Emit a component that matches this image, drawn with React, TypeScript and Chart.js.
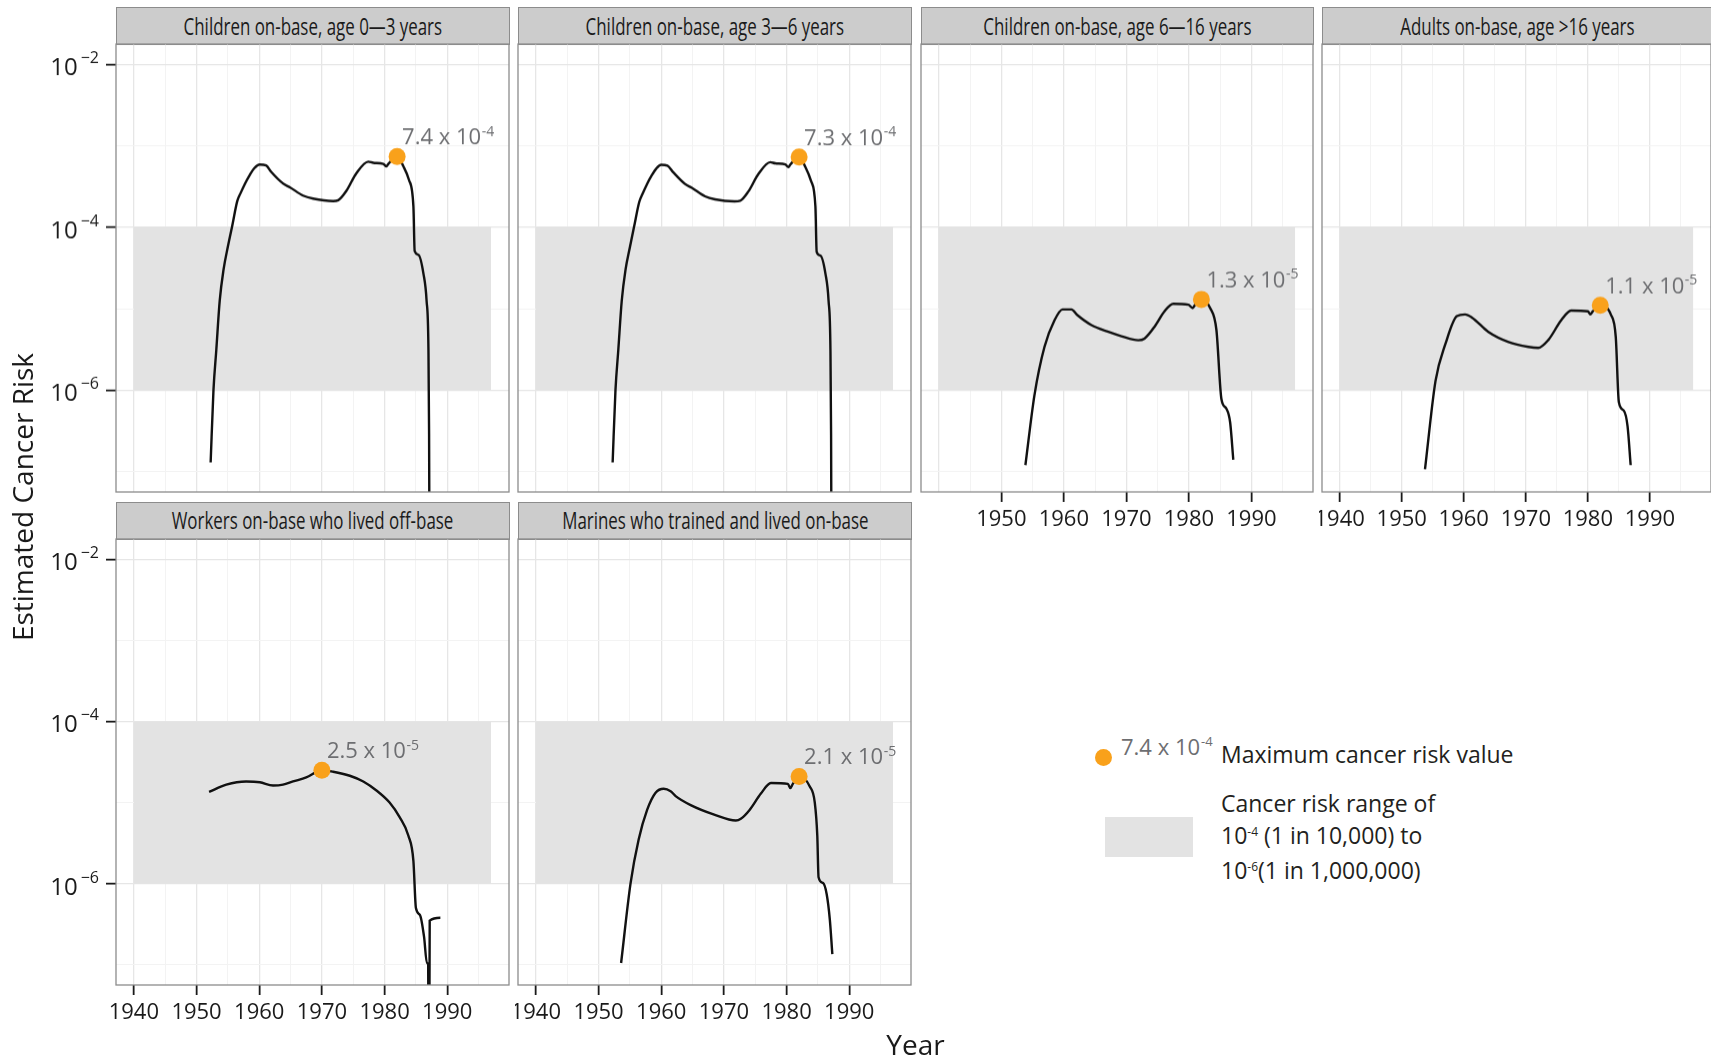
import React, { useEffect, useRef } from "react";
import { Chart, registerables } from "chart.js";

Chart.register(...registerables);

const FONT = '"Open Sans", "Noto Sans", "DejaVu Sans", sans-serif';

// ---------------- data ----------------
const panelTitles = [
  "Children on-base, age 0—3 years",
  "Children on-base, age 3—6 years",
  "Children on-base, age 6—16 years",
  "Adults on-base, age >16 years",
  "Workers on-base who lived off-base",
  "Marines who trained and lived on-base",
];

const years0to3 = [1952.25, 1952.7, 1953.15, 1953.7, 1954.3, 1955.0, 1955.65, 1956.5, 1957.0, 1957.7, 1958.5, 1959.2, 1960.1, 1961.1, 1961.9, 1963.8, 1964.9, 1967.0, 1968.6, 1971.8, 1972.6, 1973.9, 1975.5, 1977.4, 1978.2, 1979.8, 1980.3, 1980.6, 1982.0, 1983.0, 1983.9, 1984.6, 1984.8, 1985.4, 1986.2, 1986.7, 1987.0, 1987.1, 1987.2];
const risk0to3 = [1.3e-7, 1.0e-6, 3.1e-6, 1.26e-5, 3.0e-5, 5.8e-5, 1.0e-4, 2.1e-4, 2.6e-4, 3.4e-4, 4.4e-4, 5.3e-4, 5.9e-4, 5.75e-4, 4.8e-4, 3.45e-4, 3.1e-4, 2.45e-4, 2.25e-4, 2.1e-4, 2.15e-4, 2.8e-4, 4.6e-4, 6.4e-4, 6.2e-4, 6.0e-4, 5.6e-4, 6.0e-4, 7.4e-4, 5.6e-4, 3.8e-4, 1.8e-4, 5.1e-5, 4.6e-5, 2.7e-5, 1.26e-5, 3.1e-6, 2.9e-7, 1e-9];

const years3to6 = [1952.25, 1952.7, 1953.15, 1953.7, 1954.3, 1955.0, 1955.65, 1956.5, 1957.0, 1957.7, 1958.5, 1959.2, 1960.0, 1961.0, 1961.9, 1963.8, 1964.9, 1967.0, 1968.6, 1971.7, 1972.6, 1973.9, 1975.5, 1977.4, 1978.2, 1979.8, 1980.3, 1980.6, 1982.0, 1983.0, 1983.9, 1984.6, 1984.8, 1985.4, 1986.2, 1986.7, 1987.0, 1987.1, 1987.2];
const risk3to6 = [1.3e-7, 1.0e-6, 3.1e-6, 1.25e-5, 3.0e-5, 5.7e-5, 1.0e-4, 2.05e-4, 2.55e-4, 3.35e-4, 4.35e-4, 5.25e-4, 5.85e-4, 5.7e-4, 4.75e-4, 3.4e-4, 3.05e-4, 2.4e-4, 2.2e-4, 2.08e-4, 2.12e-4, 2.75e-4, 4.5e-4, 6.3e-4, 6.1e-4, 5.9e-4, 5.5e-4, 5.9e-4, 7.3e-4, 5.5e-4, 3.7e-4, 1.8e-4, 5.0e-5, 4.5e-5, 2.7e-5, 1.25e-5, 3.0e-6, 2.8e-7, 1e-9];

const years6to16 = [1953.85, 1955.3, 1956.9, 1958.5, 1959.8, 1961.2, 1962.2, 1964.4, 1967.1, 1969.2, 1971.9, 1972.9, 1974.5, 1976.1, 1977.5, 1979.9, 1980.6, 1981.0, 1982.0, 1983.4, 1984.4, 1985.2, 1986.0, 1986.6, 1987.1];
const risk6to16 = [1.2e-7, 8.7e-7, 3.4e-6, 7.2e-6, 9.8e-6, 9.8e-6, 8.3e-6, 6.3e-6, 5.2e-6, 4.6e-6, 4.1e-6, 4.3e-6, 6.0e-6, 9.3e-6, 1.15e-5, 1.12e-5, 1.02e-5, 1.12e-5, 1.3e-5, 1.02e-5, 5.5e-6, 7.8e-7, 5.9e-7, 4.0e-7, 1.4e-7];

const yearsAdults = [1953.75, 1955.45, 1957.05, 1958.9, 1960.2, 1961.3, 1963.95, 1967.2, 1970.4, 1972.0, 1973.6, 1975.7, 1977.3, 1980.0, 1980.4, 1980.8, 1982.0, 1983.7, 1984.5, 1985.0, 1985.8, 1986.4, 1986.9];
const riskAdults = [1.07e-7, 1.3e-6, 3.7e-6, 8.1e-6, 8.5e-6, 7.8e-6, 5.2e-6, 3.9e-6, 3.4e-6, 3.3e-6, 4.1e-6, 7.2e-6, 9.5e-6, 9.3e-6, 8.5e-6, 9.3e-6, 1.1e-5, 8.5e-6, 4.5e-6, 7.1e-7, 5.6e-7, 3.6e-7, 1.2e-7];

const yearsWorkers = [1952.0, 1954.75, 1957.9, 1960.1, 1962.2, 1963.8, 1965.4, 1967.5, 1970.0, 1971.8, 1974.45, 1976.6, 1978.7, 1980.8, 1982.4, 1983.8, 1984.6, 1985.0, 1985.65, 1986.3, 1986.75, 1986.95, 1987.05, 1987.2, 1988.9];
const riskWorkers = [1.35e-5, 1.66e-5, 1.82e-5, 1.78e-5, 1.62e-5, 1.66e-5, 1.82e-5, 2.04e-5, 2.5e-5, 2.4e-5, 2.14e-5, 1.82e-5, 1.41e-5, 1.0e-5, 6.6e-6, 3.9e-6, 1.9e-6, 5.0e-7, 4.1e-7, 2.2e-7, 1.05e-7, 1.0e-7, 1e-10, 3.5e-7, 3.8e-7];

const yearsMarines = [1953.6, 1955.1, 1956.4, 1957.75, 1959.1, 1960.4, 1961.5, 1962.3, 1964.7, 1968.45, 1971.9, 1972.7, 1974.1, 1975.9, 1977.5, 1980.2, 1980.6, 1981.0, 1982.0, 1983.7, 1984.5, 1984.9, 1985.1, 1985.8, 1986.4, 1986.9, 1987.3];
const riskMarines = [1.05e-7, 1.0e-6, 3.5e-6, 8.1e-6, 1.32e-5, 1.48e-5, 1.38e-5, 1.2e-5, 9.3e-6, 7.1e-6, 6.0e-6, 6.3e-6, 8.1e-6, 1.29e-5, 1.74e-5, 1.7e-5, 1.51e-5, 1.7e-5, 2.1e-5, 1.58e-5, 1.0e-5, 3.9e-6, 1.2e-6, 1.02e-6, 7.4e-7, 3.6e-7, 1.35e-7];

const maxYears = [1982, 1982, 1982, 1982, 1970, 1982];
const maxRisks = [7.4e-4, 7.3e-4, 1.3e-5, 1.1e-5, 2.5e-5, 2.1e-5];

const xTickYears = [1940, 1945, 1950, 1955, 1960, 1965, 1970, 1975, 1980, 1985, 1990, 1995];
const xLabelYears = [1940, 1950, 1960, 1970, 1980, 1990];
const yTickRisks = [1e-7, 1e-6, 1e-5, 1e-4, 1e-3, 1e-2];
const yLabelRisks = [1e-6, 1e-4, 1e-2];
const rangeYears = [1940, 1997];
const rangeLow = 1e-6;
const rangeHigh = 1e-4;
const legendExample = 7.4e-4;
const xLimits = [1937.15, 1999.85];
const yLimitExps = [-7.25, -1.75];

const seriesYears = [years0to3, years3to6, years6to16, yearsAdults, yearsWorkers, yearsMarines];
const seriesRisks = [risk0to3, risk3to6, risk6to16, riskAdults, riskWorkers, riskMarines];

// ---------------- layout (styles) ----------------
type PanelLayout = {
  left: number; right: number; top: number; bottom: number; stripTop: number;
  showY: boolean; showX: boolean; hideFirstX?: boolean;
};

const PANELS: PanelLayout[] = [
  { left: 116, right: 509, top: 44, bottom: 491.5, stripTop: 7, showY: true, showX: false },
  { left: 518, right: 911, top: 44, bottom: 491.5, stripTop: 7, showY: false, showX: false },
  { left: 920.5, right: 1313, top: 44, bottom: 491.5, stripTop: 7, showY: false, showX: true, hideFirstX: true },
  { left: 1322, right: 1711, top: 44, bottom: 491.5, stripTop: 7, showY: false, showX: true },
  { left: 116, right: 509, top: 539, bottom: 985, stripTop: 501.5, showY: true, showX: true },
  { left: 518, right: 911, top: 539, bottom: 985, stripTop: 501.5, showY: false, showX: true },
];

const MAJOR_GRID = "#e6e6e6";
const MINOR_GRID = "#f3f3f3";
const PANEL_BORDER = "#8c8c8c";
const TEXT_DARK = "#1a1a1a";
const LABEL_GREY = "#6d6e71";
const ORANGE = "#f9a11b";
const RANGE_FILL = "#e3e3e3";
const X_AXIS_H = 60;

function geom(p: PanelLayout) {
  const padL = p.showY ? p.left : 3;
  const padR = 3;
  const padT = 2;
  const padB = p.showX ? 0 : 3;
  const axisH = p.showX ? X_AXIS_H : 0;
  return {
    padL, padR, padT, padB, axisH,
    cl: p.left - padL,
    ct: p.top - padT,
    w: p.right - p.left + padL + padR,
    h: p.bottom - p.top + padT + padB + axisH,
  };
}

const isMajorYear = (v: number) => xLabelYears.includes(v);
const isMajorRisk = (v: number) => yLabelRisks.some((r) => Math.abs(Math.log10(r) - Math.log10(v)) < 1e-6);

function makeDecor(p: PanelLayout, idx: number) {
  return {
    id: "decor" + idx,
    afterDatasetsDraw(chart: any) {
      const ctx = chart.ctx as CanvasRenderingContext2D;
      const meta = chart.getDatasetMeta(3);
      const pt = meta.data[0];
      if (!pt) return;
      const parts = maxRisks[idx].toExponential(1).split("e");
      const mant = parts[0];
      const exp = String(parseInt(parts[1], 10));
      ctx.save();
      ctx.fillStyle = LABEL_GREY;
      ctx.textAlign = "left";
      ctx.textBaseline = "alphabetic";
      ctx.font = `22px ${FONT}`;
      const tx = pt.x + 5;
      const ty = pt.y - 12;
      const main = `${mant} x 10`;
      ctx.fillText(main, tx, ty);
      const w = ctx.measureText(main).width;
      ctx.font = `14px ${FONT}`;
      ctx.fillText(exp, tx + w + 0.5, ty - 8.5);
      ctx.restore();
    },
    afterDraw(chart: any) {
      const ctx = chart.ctx as CanvasRenderingContext2D;
      const a = chart.chartArea;
      ctx.save();
      ctx.strokeStyle = PANEL_BORDER;
      ctx.lineWidth = 1.3;
      ctx.strokeRect(a.left, a.top, a.right - a.left, a.bottom - a.top);
      if (p.showY) {
        const ys = chart.scales.y;
        ctx.fillStyle = TEXT_DARK;
        ctx.textAlign = "right";
        ctx.textBaseline = "alphabetic";
        yLabelRisks.forEach((r) => {
          const y = ys.getPixelForValue(r);
          const e = Math.round(Math.log10(r));
          const sup = "\u2212" + Math.abs(e);
          ctx.font = `16px ${FONT}`;
          const supW = ctx.measureText(sup).width;
          const xr = a.left - 17;
          ctx.fillText(sup, xr, y - 1);
          ctx.font = `24px ${FONT}`;
          ctx.fillText("10", xr - supW - 3, y + 11);
        });
      }
      ctx.restore();
    },
  };
}

function buildConfig(p: PanelLayout, idx: number) {
  const g = geom(p);
  const years = seriesYears[idx];
  const risks = seriesRisks[idx];
  return {
    type: "line",
    data: {
      datasets: [
        {
          data: rangeYears.map((x) => ({ x, y: rangeLow })),
          borderColor: "rgba(0,0,0,0)",
          backgroundColor: "rgba(0,0,0,0)",
          borderWidth: 0,
          pointRadius: 0,
          fill: false,
          order: 4,
        },
        {
          data: rangeYears.map((x) => ({ x, y: rangeHigh })),
          borderColor: "rgba(0,0,0,0)",
          backgroundColor: RANGE_FILL,
          borderWidth: 0,
          pointRadius: 0,
          fill: "-1",
          order: 3,
        },
        {
          data: years.map((x, i) => ({ x, y: risks[i] })),
          borderColor: "#111111",
          borderWidth: 2.4,
          pointRadius: 0,
          fill: false,
          cubicInterpolationMode: "monotone",
          clip: 0,
          order: 2,
        },
        {
          data: [{ x: maxYears[idx], y: maxRisks[idx] }],
          showLine: false,
          pointRadius: 8.5,
          pointBackgroundColor: ORANGE,
          pointBorderColor: ORANGE,
          pointBorderWidth: 0,
          clip: false,
          order: 1,
        },
      ],
    },
    options: {
      animation: false,
      responsive: false,
      maintainAspectRatio: false,
      events: [],
      layout: {
        autoPadding: false,
        padding: { left: g.padL, right: g.padR, top: g.padT, bottom: g.padB },
      },
      plugins: {
        legend: { display: false },
        tooltip: { enabled: false },
        title: { display: false },
      },
      scales: {
        x: {
          type: "linear",
          position: "bottom",
          min: xLimits[0],
          max: xLimits[1],
          bounds: "data",
          afterBuildTicks: (s: any) => {
            s.ticks = xTickYears.map((v) => ({ value: v }));
          },
          afterFit: (s: any) => {
            s.height = g.axisH;
            s.paddingLeft = 0;
            s.paddingRight = 0;
            s.paddingTop = 0;
            s.paddingBottom = 0;
          },
          border: { display: false },
          grid: {
            color: (c: any) => (c.tick && isMajorYear(c.tick.value) ? MAJOR_GRID : MINOR_GRID),
            lineWidth: (c: any) => (c.tick && isMajorYear(c.tick.value) ? 1.3 : 1),
            drawTicks: p.showX,
            tickLength: 10,
            tickWidth: 1.8,
            tickColor: (c: any) =>
              c.tick && isMajorYear(c.tick.value) && !(p.hideFirstX && c.tick.value === xLabelYears[0])
                ? TEXT_DARK
                : "rgba(0,0,0,0)",
          },
          ticks: {
            display: p.showX,
            autoSkip: false,
            maxRotation: 0,
            minRotation: 0,
            padding: 5,
            color: TEXT_DARK,
            font: { family: FONT, size: 22 },
            callback: (v: any) =>
              isMajorYear(v) && !(p.hideFirstX && v === xLabelYears[0]) ? String(v) : "",
          },
        },
        y: {
          type: "logarithmic",
          position: "left",
          min: Math.pow(10, yLimitExps[0]),
          max: Math.pow(10, yLimitExps[1]),
          bounds: "data",
          afterBuildTicks: (s: any) => {
            s.ticks = yTickRisks.map((v) => ({ value: v }));
          },
          afterFit: (s: any) => {
            s.width = 0;
            s.paddingLeft = 0;
            s.paddingRight = 0;
            s.paddingTop = 0;
            s.paddingBottom = 0;
          },
          border: { display: false },
          grid: {
            color: (c: any) => (c.tick && isMajorRisk(c.tick.value) ? MAJOR_GRID : MINOR_GRID),
            lineWidth: (c: any) => (c.tick && isMajorRisk(c.tick.value) ? 1.3 : 1),
            drawTicks: p.showY,
            tickLength: 10,
            tickWidth: 1.8,
            tickColor: (c: any) => (c.tick && isMajorRisk(c.tick.value) ? TEXT_DARK : "rgba(0,0,0,0)"),
          },
          ticks: { display: false },
        },
      },
    },
    plugins: [makeDecor(p, idx)],
  };
}

export default function App() {
  const refs = useRef<(HTMLCanvasElement | null)[]>([]);

  useEffect(() => {
    document.body.style.margin = "0";
    const charts = PANELS.map((p, i) => {
      const c = refs.current[i]!;
      return new Chart(c, buildConfig(p, i) as any);
    });
    return () => charts.forEach((c) => c.destroy());
  }, []);

  const legParts = legendExample.toExponential(1).split("e");
  const legMant = legParts[0];
  const legExp = String(parseInt(legParts[1], 10));

  return (
    <div
      style={{
        position: "absolute",
        left: 0,
        top: 0,
        width: 1711,
        height: 1060,
        overflow: "hidden",
        background: "#ffffff",
        fontFamily: FONT,
      }}
    >
      {PANELS.map((p, i) => (
        <div
          key={"strip" + i}
          style={{
            position: "absolute",
            left: p.left,
            top: p.stripTop,
            width: p.right - p.left + 1,
            height: p.top - p.stripTop + 1,
            background: "#cccccc",
            border: `1.3px solid ${PANEL_BORDER}`,
            boxSizing: "border-box",
            display: "flex",
            alignItems: "center",
            justifyContent: "center",
            overflow: "visible",
          }}
        >
          <span
            style={{
              fontSize: 23,
              lineHeight: 1,
              whiteSpace: "nowrap",
              color: TEXT_DARK,
              transform: "scaleX(0.735)",
              display: "inline-block",
            }}
          >
            {panelTitles[i]}
          </span>
        </div>
      ))}

      {PANELS.map((p, i) => {
        const g = geom(p);
        return (
          <canvas
            key={"cv" + i}
            ref={(el) => {
              refs.current[i] = el;
            }}
            width={g.w}
            height={g.h}
            style={{ position: "absolute", left: g.cl, top: g.ct, width: g.w, height: g.h, display: "block" }}
          />
        );
      })}

      {/* Y axis title */}
      <div
        style={{
          position: "absolute",
          left: 22.4 - 200,
          top: 496.5 - 14,
          width: 400,
          height: 28,
          lineHeight: "28px",
          fontSize: 28,
          textAlign: "center",
          color: TEXT_DARK,
          transform: "rotate(-90deg)",
          transformOrigin: "center center",
          whiteSpace: "nowrap",
        }}
      >
        Estimated Cancer Risk
      </div>

      {/* X axis title */}
      <div
        style={{
          position: "absolute",
          left: 915.5 - 100,
          top: 1055 - 24.9,
          width: 200,
          height: 28,
          lineHeight: "28px",
          fontSize: 28,
          textAlign: "center",
          color: TEXT_DARK,
          whiteSpace: "nowrap",
        }}
      >
        Year
      </div>

      {/* Legend */}
      <div
        style={{
          position: "absolute",
          left: 1103 - 8.5,
          top: 757 - 8.5,
          width: 17,
          height: 17,
          borderRadius: "50%",
          background: ORANGE,
        }}
      />
      <div
        style={{
          position: "absolute",
          left: 1121,
          top: 755 - 0.888 * 22,
          fontSize: 22,
          lineHeight: 1,
          color: LABEL_GREY,
          whiteSpace: "nowrap",
        }}
      >
        {legMant} x 10
        <span style={{ fontSize: 13, position: "relative", top: -9, marginLeft: 1 }}>{legExp}</span>
      </div>
      <div
        style={{
          position: "absolute",
          left: 1221,
          top: 763 - 0.888 * 23,
          fontSize: 23,
          lineHeight: 1,
          color: "#231f20",
          whiteSpace: "nowrap",
        }}
      >
        Maximum cancer risk value
      </div>
      <div
        style={{
          position: "absolute",
          left: 1105,
          top: 817,
          width: 88,
          height: 40,
          background: RANGE_FILL,
        }}
      />
      <div
        style={{
          position: "absolute",
          left: 1221,
          top: 813 - 24.67,
          fontSize: 23,
          lineHeight: "31.5px",
          color: "#231f20",
          whiteSpace: "nowrap",
        }}
      >
        <div>Cancer risk range of</div>
        <div>
          10<span style={{ fontSize: 12, position: "relative", top: -8 }}>-4</span> (1 in 10,000) to
        </div>
        <div>
          10<span style={{ fontSize: 12, position: "relative", top: -8 }}>-6</span>(1 in 1,000,000)
        </div>
      </div>
    </div>
  );
}
